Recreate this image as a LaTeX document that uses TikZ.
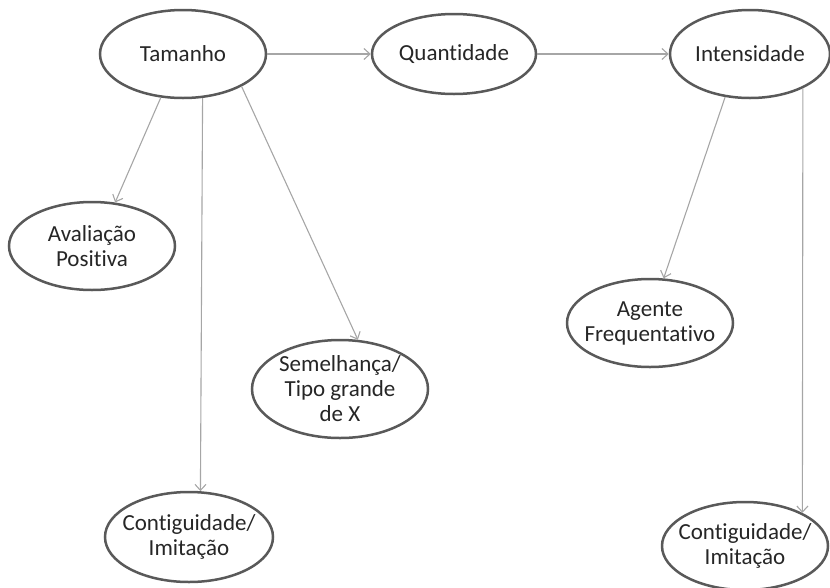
\documentclass[tikz,border=0pt]{standalone}
\usepackage{fontspec}
\setmainfont[Ligatures=NoCommon]{Carlito}
\usetikzlibrary{shapes.geometric,arrows.meta}
\definecolor{rim}{HTML}{595959}
\definecolor{link}{HTML}{A6A6A6}
\begin{document}
\begin{tikzpicture}[x=1pt,y=-1pt]
    \tikzstyle{bubble}=[ellipse, draw=rim, line width=2.5pt, fill=white, inner xsep=-12pt, inner ysep=0pt, align=center, font=\fontsize{23}{25}\selectfont, text=black!85]
    \tikzstyle{link}=[draw=link, line width=1.1pt, -{Straight Barb[length=6pt,width=11pt]}]
    \useasboundingbox (0,0) rectangle (830,587);
    \clip (0,0) rectangle (830,587);
    % top row
    \node[bubble, minimum width=166pt, minimum height=88pt] (tam) at (183,54) {Tamanho};
    \node[bubble, minimum width=164pt, minimum height=80pt] (qua) at (454,54) {Quantidade};
    \node[bubble, minimum width=160pt, minimum height=88pt] (int) at (750,54) {Intensidade};
    % under Tamanho
    \node[bubble, minimum width=166pt, minimum height=88pt] (ava) at (92,246) {Avaliação\\Positiva};
    \node[bubble, minimum width=176pt, minimum height=98pt, inner ysep=-4pt] (sem) at (340,389) {Semelhança/\\Tipo grande\\de X};
    \node[bubble, minimum width=168pt, minimum height=90pt] (con1) at (189,537) {Contiguidade/\\Imitação};
    % under Intensidade
    \node[bubble, minimum width=166pt, minimum height=88pt] (age) at (650,323) {Agente\\Frequentativo};
    \node[bubble, minimum width=166pt, minimum height=88pt] (con2) at (745,546) {Contiguidade/\\Imitação};
    % connectors
    \draw[link] (tam.east) -- (qua.west);
    \draw[link] (qua.east) -- (int.west);
    \draw[link] (tam.243) -- (ava.62);
    \draw[link] (tam.294) -- (con1.76);
    \draw[link] (tam.331) -- (sem.70);
    \draw[link] (int.240) -- (age.73);
    \draw[link] (int.327) -- (con2.30);
  \end{tikzpicture}
\end{document}
